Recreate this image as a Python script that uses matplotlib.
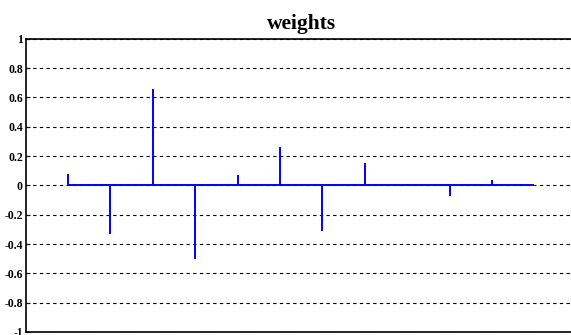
import numpy as np
import matplotlib.pyplot as plt
import matplotlib

matplotlib.rcParams['font.family'] = ['Liberation Serif', 'DejaVu Serif']

# weight values, one per index
idx = np.arange(1, 13)
weights = [0.075, -0.33, 0.66, -0.50, 0.07, 0.26, -0.31, 0.15, 0.01, -0.07, 0.04, 0.0]
yticks = [-1, -0.8, -0.6, -0.4, -0.2, 0, 0.2, 0.4, 0.6, 0.8, 1]
ytick_labels = ['-1', '-0.8', '-0.6', '-0.4', '-0.2', '0', '0.2', '0.4', '0.6', '0.8', '1']

fig = plt.figure(figsize=(5.71, 3.35), dpi=100)
ax = fig.add_axes([0.045, 0.009, 0.965, 0.875])

ax.vlines(idx, 0, weights, color='#0000ff', linewidth=1.4)
ax.hlines(0, idx[0], idx[-1], color='#0000ff', linewidth=1.4)

ax.set_xlim(0, 13)
ax.set_ylim(-1, 1)
ax.set_xticks([])
ax.set_yticks(yticks)
ax.set_yticklabels(ytick_labels, fontsize=8.5, fontweight='bold')
ax.tick_params(axis='y', direction='in', length=3, pad=2)
ax.yaxis.grid(True, linestyle=(0, (3, 3)), color='black', linewidth=0.8)
ax.set_axisbelow(True)
for s in ax.spines.values():
    s.set_linewidth(1.2)

ax.set_title('weights', fontsize=15.5, fontweight='bold', pad=7)

plt.savefig('out.png', dpi=100)
